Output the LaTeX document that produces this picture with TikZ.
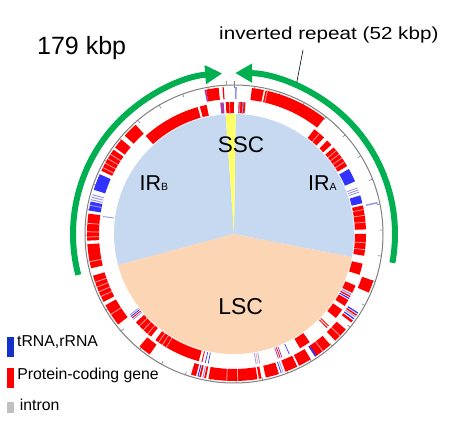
\documentclass[tikz,border=0pt]{standalone}
\usepackage{fontspec}
\setmainfont{Liberation Sans}
\usetikzlibrary{arrows.meta}
\definecolor{irblue}{RGB}{198,217,241}
\definecolor{lscpeach}{RGB}{252,213,180}
\definecolor{sscyel}{RGB}{255,255,102}
\definecolor{gred}{RGB}{255,0,0}
\definecolor{gblue}{RGB}{51,51,255}
\definecolor{glav}{RGB}{150,150,230}
\definecolor{gpurp}{RGB}{170,60,170}
\definecolor{gstripe}{RGB}{255,170,170}
\definecolor{arrowgreen}{RGB}{0,176,80}
\definecolor{legblue}{RGB}{20,50,200}
\definecolor{leggray}{RGB}{192,192,192}
\definecolor{ringgray}{RGB}{128,128,128}
\newcommand\gsect[5]{\fill[#5] (#3:#1) arc[start angle=#3,end angle=#4,radius=#1] -- (#4:#2) arc[start angle=#4,end angle=#3,radius=#2] -- cycle;}
\newcommand\outgene[3]{\gsect{135pt}{147pt}{#1}{#2}{#3}}
\newcommand\ingene[3]{\gsect{121pt}{132pt}{#1}{#2}{#3}}
\tikzset{
  greenarc/.style={draw=arrowgreen, line width=6pt, -{Triangle[length=17pt,width=18pt]}},
  tickmark/.style={draw=ringgray, line width=0.6pt},
  leader/.style={draw=black, line width=0.6pt},
  legbar/.style={inner sep=0pt, minimum width=6.7pt},
  legtext/.style={anchor=base west, inner sep=0pt, font=\fontsize{15.8pt}{18pt}\selectfont},
  reglabel/.style={anchor=base, inner sep=0pt},
}
\begin{document}
\begin{tikzpicture}[x=1pt,y=1pt]
\useasboundingbox (-234,-199) rectangle (227,234);
% pie of regions
\fill[irblue] (0,0) -- (94:120pt) arc[start angle=94,end angle=195,radius=120pt] -- cycle;
\fill[lscpeach] (0,0) -- (195:120pt) arc[start angle=195,end angle=349,radius=120pt] -- cycle;
\fill[irblue] (0,0) -- (-11:120pt) arc[start angle=-11,end angle=89.2,radius=120pt] -- cycle;
\fill[sscyel] (0,0) -- (89.2:120pt) arc[start angle=89.2,end angle=93.9,radius=120pt] -- cycle;
% outer circle and ticks
\draw[ringgray, line width=1pt] (0,0) circle[radius=149pt];
\foreach \k in {0,...,35} {\draw[tickmark] ({90+\k*10.056}:149pt) -- ({90+\k*10.056}:145.5pt);}
\draw[tickmark] (90:149pt) -- (90:153pt);
\draw[tickmark] (92.8:149pt) -- (92.8:153pt);
% outer ring genes
\outgene{96}{101}{gred}
\outgene{101}{101.6}{gpurp}
\outgene{94}{94.5}{gred}
\outgene{88.9}{89.6}{glav}
\outgene{78.3}{83}{gred}
\outgene{52}{77.6}{gred}
\outgene{76.7}{77}{gstripe}
\outgene{132}{138}{gred}
\outgene{140}{144}{gred}
\outgene{145}{154.5}{gred}
\foreach \a in {147,149,151,153} {\outgene{\a}{\a+0.3}{gstripe}}
\outgene{156}{162.5}{gblue}
\foreach \a in {164.3,165.3,166.3} {\outgene{\a}{\a+0.4}{glav}}
\outgene{167.2}{170.8}{gblue}
\outgene{168.5}{168.9}{glav}
\outgene{172}{182.6}{gred}
\foreach \a in {175.7,179,181} {\outgene{\a}{\a+0.3}{gstripe}}
\outgene{184}{193.5}{gred}
\outgene{190.7}{191}{gstripe}
\outgene{196.5}{207.5}{gred}
\foreach \a in {199,201,203,205} {\outgene{\a}{\a+0.3}{gstripe}}
\outgene{209}{218}{gred}
\outgene{213}{213.3}{gstripe}
\outgene{230}{235}{gred}
\outgene{253}{255}{gred}
\outgene{255.6}{256}{gblue}
\outgene{256.3}{257}{gred}
\outgene{257.6}{258}{glav}
\outgene{258.3}{259}{gred}
\outgene{260}{279.2}{gred}
\outgene{267}{267.3}{gstripe}
\outgene{271.3}{271.6}{gstripe}
\outgene{279.8}{280.8}{gred}
\outgene{282.5}{287.8}{gred}
\outgene{288.6}{288.9}{gblue}
\outgene{289.4}{289.7}{glav}
\outgene{290.5}{295.5}{gred}
\outgene{296.3}{301.5}{gred}
\outgene{303.5}{311}{gred}
\outgene{303.5}{304.2}{gblue}
\outgene{307}{307.3}{gstripe}
\outgene{313.5}{319.5}{gred}
\outgene{316}{316.3}{gstripe}
\outgene{323}{324}{gred}
\outgene{324.5}{325}{gblue}
\outgene{325.5}{325.9}{glav}
\outgene{326.2}{326.8}{gred}
\outgene{327.2}{327.7}{gblue}
\outgene{336.5}{341.5}{gred}
\outgene{12}{12.6}{glav}
% inner ring genes
\ingene{94.5}{96}{gpurp}
\ingene{90}{93.6}{gred}
\ingene{91.8}{92.1}{gstripe}
\ingene{85}{88}{gred}
\ingene{85.8}{86.3}{glav}
\ingene{87.2}{87.6}{glav}
\ingene{106}{132}{gred}
\ingene{102}{105}{gred}
\ingene{172.2}{172.6}{glav}
\ingene{217.7}{218.1}{glav}
\ingene{218.5}{218.9}{gblue}
\ingene{219.3}{219.7}{gred}
\ingene{220.1}{220.5}{glav}
\ingene{222}{231}{gred}
\foreach \a in {224,226.5,229} {\ingene{\a}{\a+0.3}{gstripe}}
\ingene{233.5}{254.5}{gred}
\foreach \a in {235,237,239} {\ingene{\a}{\a+0.3}{gstripe}}
\ingene{255.7}{256.1}{gred}
\ingene{257.3}{257.6}{gblue}
\ingene{258.6}{258.9}{gblue}
\foreach \a in {279.5,281.1} {\ingene{\a}{\a+0.35}{glav}}
\ingene{280.3}{280.65}{gstripe}
\foreach \a in {289.5,291.1} {\ingene{\a}{\a+0.35}{gpurp}}
\ingene{290.3}{290.65}{gred}
\ingene{294.6}{294.9}{gblue}
\ingene{300}{305}{gred}
\ingene{314.6}{315}{gred}
\ingene{315.6}{316}{gred}
\ingene{320.5}{325}{gred}
\ingene{327}{330}{gred}
\ingene{330.5}{331}{gblue}
\ingene{331.4}{332}{gred}
\ingene{332.4}{333}{glav}
\ingene{333.5}{337}{gred}
\ingene{342}{347}{gred}
\ingene{350.5}{360}{gred}
\foreach \a in {353,356} {\ingene{\a}{\a+0.3}{gstripe}}
\ingene{2}{12.5}{gred}
\foreach \a in {5,8,10.5} {\ingene{\a}{\a+0.3}{gstripe}}
\ingene{13.5}{17}{gblue}
\foreach \a in {18.3,19.3,20.3} {\ingene{\a}{\a+0.4}{glav}}
\ingene{23.5}{29.5}{gblue}
\ingene{31}{41}{gred}
\foreach \a in {33,35,37,39} {\ingene{\a}{\a+0.3}{gstripe}}
\ingene{42.5}{45}{gred}
\ingene{47}{52.5}{gred}
\ingene{49.5}{49.8}{gstripe}
% region labels
\node[reglabel, font=\fontsize{22.5pt}{26pt}\selectfont] (ssc) at (7,81.3) {SSC};
\node[reglabel, font=\fontsize{23pt}{26pt}\selectfont] (lsc) at (6.7,-80.7) {LSC};
\node[anchor=base west, inner sep=0pt, font=\fontsize{21.5pt}{24pt}\selectfont] (irb) at (-94.5,43) {IR{\fontsize{10.5pt}{12pt}\selectfont B}};
\node[anchor=base west, inner sep=0pt, font=\fontsize{21.5pt}{24pt}\selectfont] (ira) at (74,43) {IR{\fontsize{10.5pt}{12pt}\selectfont A}};
% green arrows
\coordinate (lstart) at (194.7:161pt);
\coordinate (rstart) at (-10.3:161pt);
\draw[greenarc] (lstart) arc[start angle=194.7,end angle=94.2,radius=161pt];
\draw[greenarc] (rstart) arc[start angle=-10.3,end angle=89.6,radius=161pt];
% title labels
\node[anchor=base west, inner sep=0pt, font=\fontsize{25pt}{28pt}\selectfont] (size) at (-197,179) {179 kbp};
\node[anchor=base west, inner sep=0pt, font=\fontsize{17.5pt}{20pt}\selectfont] (irlabel) at (-15,194.7) {\scalebox{1.18}[1]{inverted repeat (52 kbp)}};
\coordinate (lead1) at (69,184);
\coordinate (lead2) at (67.5:164pt);
\draw[leader] (lead1) -- (lead2);
% legend
\node[legbar, minimum height=19.7pt, fill=legblue, anchor=north west] (lb1) at (-226.7,-103) {};
\node[legbar, minimum height=20pt, fill=gred, anchor=north west] (lb2) at (-226.7,-133.7) {};
\node[legbar, minimum height=11pt, fill=leggray, anchor=north west] (lb3) at (-226.7,-167.7) {};
\node[legtext] (lt1) at (-217,-112.7) {tRNA,rRNA};
\node[legtext] (lt2) at (-216.9,-146) {Protein-coding gene};
\node[legtext] (lt3) at (-214.3,-176.7) {intron};
\end{tikzpicture}
\end{document}
